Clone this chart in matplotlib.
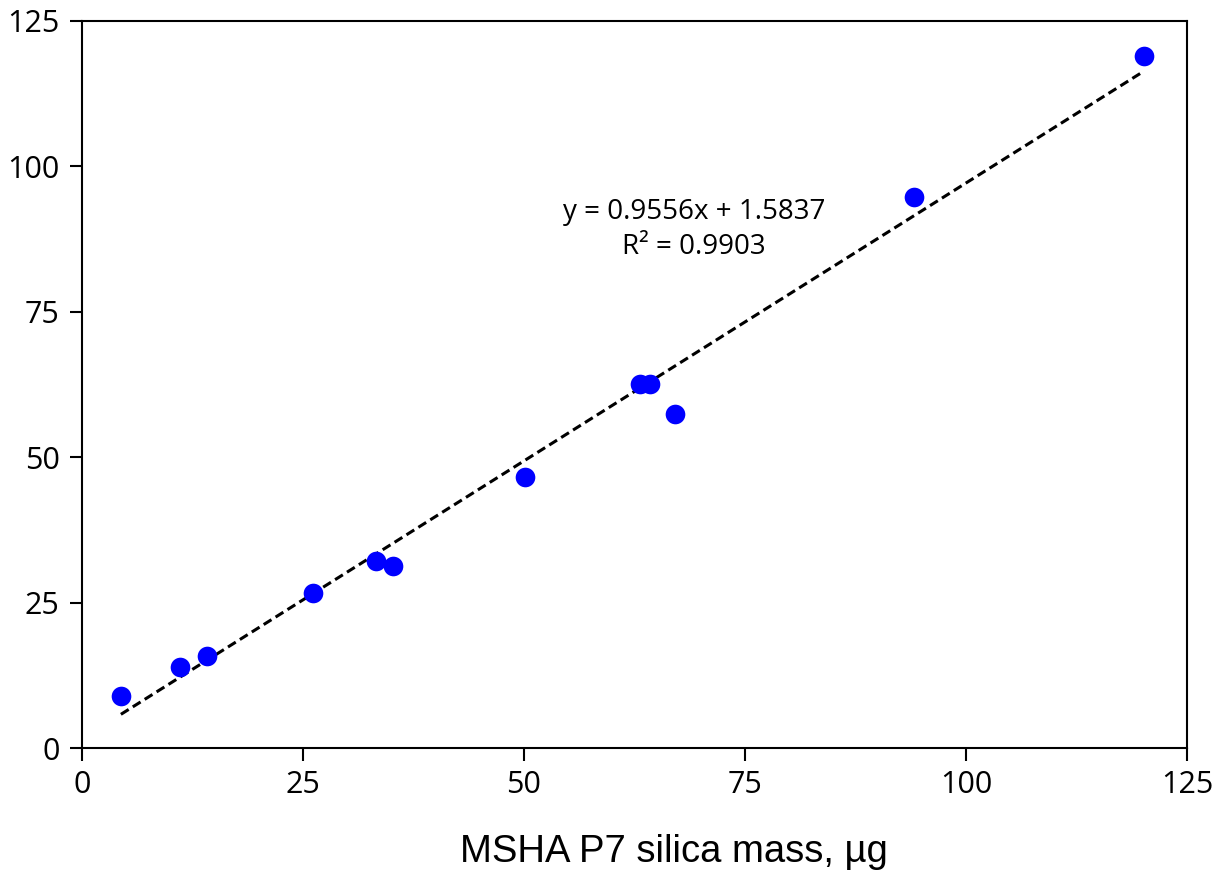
import matplotlib
matplotlib.use("Agg")
import matplotlib.pyplot as plt
import numpy as np

x_vals = [4.4, 11.1, 14.1, 26.1, 33.3, 35.2, 50.1, 63.1, 64.3, 67.1, 94.1, 120.1]
y_vals = [8.9, 13.9, 15.8, 26.6, 32.1, 31.3, 46.6, 62.6, 62.6, 57.4, 94.8, 119.0]
slope = 0.9556
intercept = 1.5837
r2 = 0.9903
ticks = [0, 25, 50, 75, 100, 125]

fig = plt.figure(figsize=(12.22, 8.72), dpi=100)
ax = fig.add_axes([82/1222, 1-748/872, (1187-82)/1222, (748-21)/872])

ax.scatter(x_vals, y_vals, s=200, color='#0000ff', zorder=3, linewidths=0)
xl = np.array([min(x_vals), max(x_vals)])
ax.plot(xl, slope*xl + intercept, color='black', linestyle=(0, (3, 1.6)), linewidth=2.2, zorder=2)

ax.set_xlim(0, 125)
ax.set_ylim(0, 125)
ax.set_xticks(ticks)
ax.set_yticks(ticks)
ax.tick_params(direction='out', length=9, width=1.5, labelsize=22, pad=7)
for lab in ax.get_xticklabels() + ax.get_yticklabels():
    lab.set_fontfamily('Open Sans')
for sp in ax.spines.values():
    sp.set_linewidth(1.5)

ax.text(694/1222, 1-212/872, f"y = {slope}x + {intercept}", transform=fig.transFigure,
        ha='center', va='center', fontsize=20, family='Open Sans')
ax.text(694/1222, 1-247/872, f"R² = {r2}", transform=fig.transFigure,
        ha='center', va='center', fontsize=20, family='Open Sans')

fig.text(674/1222, 1-852/872, "MSHA P7 silica mass, µg", fontsize=27.5, family='Liberation Sans',
         ha='center', va='center')

fig.savefig("out.png", dpi=100)
